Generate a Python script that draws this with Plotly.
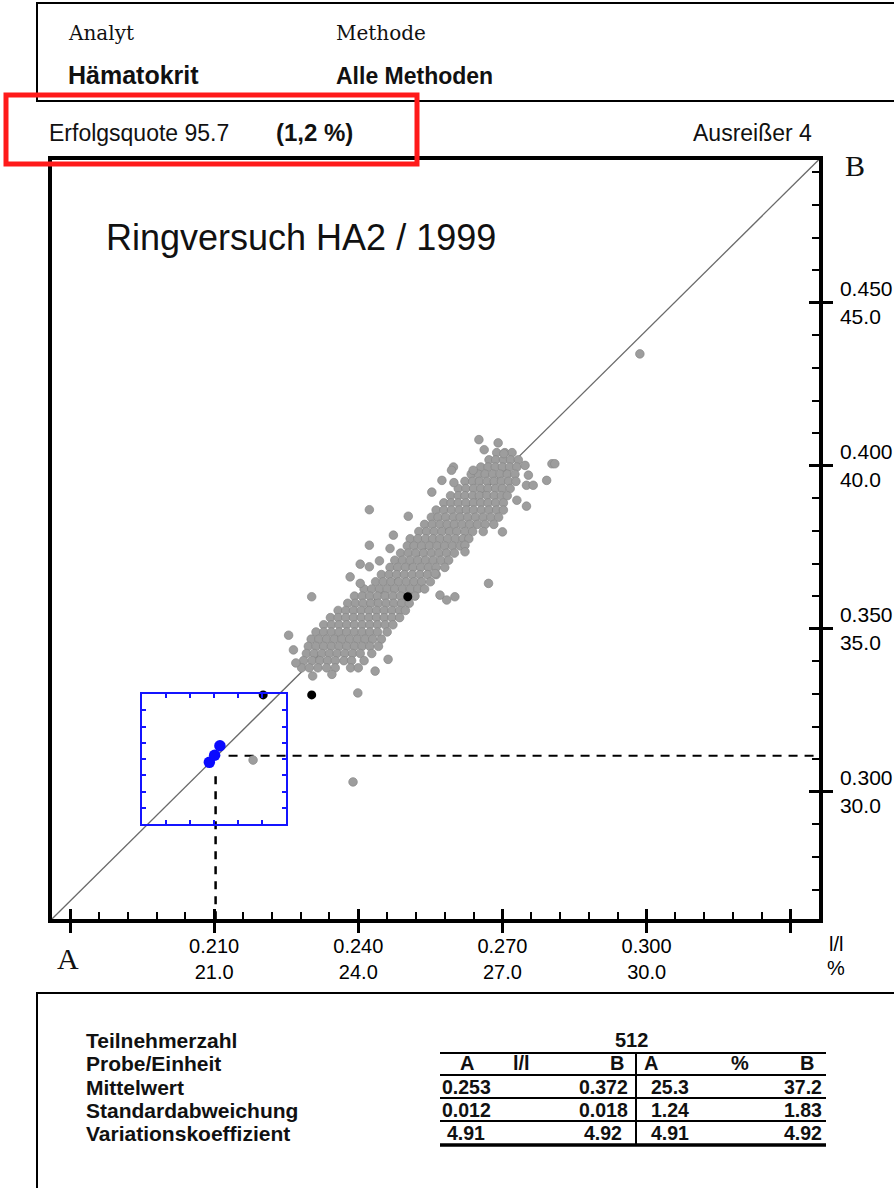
import plotly.graph_objects as go

W, H = 894, 1188
SANS = "Liberation Sans, Arial, Helvetica, sans-serif"
SERIF = "DejaVu Serif, Liberation Serif, serif"

# ---------------- data (values in %, i.e. l/l x 100) ----------------
x_major = [18.0, 21.0, 24.0, 27.0, 30.0, 33.0]
x_major_text = ["", "0.210<br>21.0", "0.240<br>24.0", "0.270<br>27.0", "0.300<br>30.0", ""]
y_major = [30.0, 35.0, 40.0, 45.0]
y_major_text = ["0.300<br>30.0", "0.350<br>35.0", "0.400<br>40.0", "0.450<br>45.0"]

x_range = [17.619, 33.588]
y_range = [26.086, 49.393]

# dense core of participant results, read row by row (B value, A values)
grey_rows_B = [40.40, 40.18, 39.96, 39.74, 39.52, 39.30, 39.08, 38.86, 38.64, 38.42,
               38.20, 37.98, 37.76, 37.54, 37.32, 37.10, 36.88, 36.66, 36.44, 36.22,
               36.00, 35.78, 35.56, 35.34, 35.12, 34.90, 34.68, 34.46, 34.24, 34.02, 33.80]
grey_rows_A = [
    [26.88, 27.05, 27.20],
    [26.72, 26.86, 27.02, 27.17, 27.33],
    [26.55, 26.70, 26.85, 27.00, 27.15, 27.30],
    [26.35, 26.50, 26.64, 26.80, 26.95, 27.10, 27.26],
    [26.22, 26.38, 26.52, 26.68, 26.83, 26.98, 27.13, 27.28],
    [26.08, 26.24, 26.40, 26.55, 26.70, 26.86, 27.00, 27.16],
    [25.92, 26.08, 26.22, 26.38, 26.52, 26.68, 26.83, 26.98, 27.10],
    [25.78, 25.93, 26.08, 26.24, 26.40, 26.55, 26.70, 26.86, 27.02],
    [25.62, 25.78, 25.94, 26.10, 26.25, 26.40, 26.56, 26.72, 26.88, 27.02],
    [25.52, 25.66, 25.82, 25.98, 26.12, 26.28, 26.44, 26.60, 26.76, 26.92],
    [25.38, 25.54, 25.70, 25.85, 26.00, 26.16, 26.32, 26.48, 26.64, 26.82],
    [25.26, 25.42, 25.58, 25.74, 25.90, 26.05, 26.22, 26.38, 26.60],
    [25.08, 25.24, 25.40, 25.55, 25.70, 25.86, 26.02, 26.18, 26.30],
    [25.02, 25.16, 25.32, 25.48, 25.64, 25.80, 25.96, 26.12],
    [24.88, 25.04, 25.20, 25.36, 25.52, 25.68, 25.84, 26.00],
    [24.76, 24.92, 25.08, 25.24, 25.40, 25.56, 25.72, 25.88],
    [24.66, 24.82, 24.98, 25.14, 25.30, 25.46, 25.62, 25.80],
    [24.48, 24.64, 24.80, 24.96, 25.12, 25.28, 25.44, 25.62],
    [24.36, 24.52, 24.68, 24.84, 25.00, 25.16, 25.32, 25.50],
    [24.12, 24.28, 24.44, 24.60, 24.76, 24.92, 25.08, 25.24, 25.38],
    [23.92, 24.08, 24.24, 24.40, 24.56, 24.72, 24.88, 25.04, 25.18],
    [23.78, 23.94, 24.10, 24.26, 24.42, 24.58, 24.74, 24.90, 25.06],
    [23.58, 23.74, 23.90, 24.06, 24.22, 24.38, 24.54, 24.70, 24.86, 24.98],
    [23.42, 23.58, 23.74, 23.90, 24.06, 24.22, 24.38, 24.54, 24.70, 24.86],
    [23.28, 23.44, 23.60, 23.76, 23.92, 24.08, 24.24, 24.40, 24.56, 24.72],
    [23.12, 23.28, 23.44, 23.60, 23.76, 23.92, 24.08, 24.24, 24.40, 24.60],
    [23.02, 23.18, 23.34, 23.50, 23.66, 23.82, 23.98, 24.14, 24.30, 24.48],
    [22.96, 23.12, 23.28, 23.44, 23.60, 23.76, 23.92, 24.08, 24.24, 24.42],
    [22.92, 23.08, 23.24, 23.40, 23.56, 23.72, 23.88, 24.04, 24.28],
    [22.86, 23.04, 23.20, 23.36, 23.52, 23.70, 23.86, 24.12],
    [22.82, 22.98, 23.16, 23.34, 23.52, 23.84, 24.00],
]
# scattered participant results around the core
grey_extra_A = [26.51, 26.62, 26.91, 27.03, 25.98, 25.94, 26.39, 27.47, 27.54, 27.50,
                27.64, 28.03, 28.09, 27.92, 25.74, 25.99, 25.53, 27.30, 27.50, 24.23,
                25.04, 27.00, 24.73, 24.23, 24.66, 26.22, 26.22, 24.04, 24.23, 24.44,
                23.83, 24.04, 25.60, 26.71, 23.03, 25.70, 25.84, 26.01, 24.62, 29.86,
                23.89, 21.81, 23.99, 22.65, 22.70, 23.05, 23.45, 22.55, 24.35]
grey_extra_B = [40.80, 40.49, 40.70, 40.37, 39.96, 39.86, 39.86, 40.01, 39.71, 39.40,
                39.40, 40.06, 40.06, 39.55, 39.55, 39.48, 39.19, 38.94, 38.76, 38.65,
                38.45, 37.97, 37.87, 37.56, 37.46, 37.56, 37.36, 36.98, 36.90, 37.08,
                36.59, 36.39, 36.69, 36.39, 35.98, 36.03, 35.88, 35.98, 34.06, 43.43,
                30.30, 30.97, 33.03, 34.35, 33.95, 33.55, 33.60, 34.80, 33.70]

outlier_A = [22.02, 23.03, 25.03]
outlier_B = [32.97, 32.97, 35.98]

own_A = [20.90, 21.01, 21.12]
own_B = [30.90, 31.12, 31.41]
own_mark_A = 21.03
own_mark_B = 31.10

target_box_A = [19.5, 22.5]
target_box_B = [29.0, 33.0]

table_labels = ["Teilnehmerzahl", "Probe/Einheit", "Mittelwert",
                "Standardabweichung", "Variationskoeffizient"]
n_participants = "512"
table_header = ["A", "l/l", "B", "A", "%", "B"]
mean_vals = ["0.253", "0.372", "25.3", "37.2"]
sd_vals = ["0.012", "0.018", "1.24", "1.83"]
cv_vals = ["4.91", "4.92", "4.91", "4.92"]

# ---------------- layout geometry ----------------
PX_L, PX_R, PX_T, PX_B = 51.7, 819.0, 159.5, 919.3
xd = [PX_L / W, PX_R / W]
yd = [1 - PX_B / H, 1 - PX_T / H]


def xdom(v):
    return xd[0] + (v - x_range[0]) / (x_range[1] - x_range[0]) * (xd[1] - xd[0])


def ydom(v):
    return yd[0] + (v - y_range[0]) / (y_range[1] - y_range[0]) * (yd[1] - yd[0])


grey_A = [a for row in grey_rows_A for a in row] + grey_extra_A
grey_B = [b for b, row in zip(grey_rows_B, grey_rows_A) for _ in row] + grey_extra_B

fig = go.Figure()

# diagonal reference line (corner to corner of the plot range)
fig.add_trace(go.Scatter(x=x_range, y=y_range, mode="lines",
                         line=dict(color="#6a6a6a", width=1.3),
                         hoverinfo="skip", showlegend=False, xaxis="x", yaxis="y"))

# dashed crosshair for own result
fig.add_trace(go.Scatter(x=[own_mark_A, own_mark_A], y=[y_range[0], own_mark_B - 0.5],
                         mode="lines", line=dict(color="black", width=2.5, dash="8px,7px"),
                         hoverinfo="skip", showlegend=False, xaxis="x2", yaxis="y2"))
fig.add_trace(go.Scatter(x=[own_mark_A + 0.27, x_range[1]], y=[own_mark_B, own_mark_B],
                         mode="lines", line=dict(color="black", width=2, dash="9px,7px"),
                         hoverinfo="skip", showlegend=False, xaxis="x2", yaxis="y2"))

# grey cloud
fig.add_trace(go.Scatter(x=grey_A, y=grey_B, mode="markers",
                         marker=dict(size=8.6, color="#9d9d9d",
                                     line=dict(color="#888888", width=0.7)),
                         hoverinfo="skip", showlegend=False, xaxis="x2", yaxis="y2"))
# outliers
fig.add_trace(go.Scatter(x=outlier_A, y=outlier_B, mode="markers",
                         marker=dict(size=9, color="black"),
                         hoverinfo="skip", showlegend=False, xaxis="x2", yaxis="y2"))
# own results (blue), drawn in target box axes
fig.add_trace(go.Scatter(x=own_A, y=own_B, mode="markers",
                         marker=dict(size=11.5, color="#0a0aff"),
                         hoverinfo="skip", showlegend=False, xaxis="x3", yaxis="y3"))

xtickfont = dict(family=SANS, size=20, color="black")
ytickfont = dict(family=SANS, size=21, color="black")
common = dict(showgrid=False, zeroline=False)

fig.update_layout(
    width=W, height=H, autosize=False,
    margin=dict(l=0, r=0, t=0, b=0),
    paper_bgcolor="white", plot_bgcolor="rgba(0,0,0,0)",
    showlegend=False,
    xaxis=dict(domain=xd, range=x_range, anchor="y", showline=True, linewidth=3.5,
               linecolor="black", mirror=True, ticks="outside", ticklen=10, tickwidth=2.5,
               tickcolor="black", tickmode="array", tickvals=x_major, ticktext=x_major_text,
               tickfont=xtickfont, ticklabelstandoff=-4,
               minor=dict(ticks="inside", ticklen=7.5, tickwidth=2, tickcolor="black",
                          tick0=18, dtick=0.6, showgrid=False),
               **common),
    yaxis=dict(domain=yd, range=y_range, anchor="x", side="right", showline=True,
               linewidth=3.5, linecolor="black", mirror=True, ticks="outside", ticklen=10,
               tickwidth=2.5, tickcolor="black", tickmode="array", tickvals=y_major,
               ticktext=y_major_text, tickfont=ytickfont, ticklabelstandoff=3,
               minor=dict(ticks="inside", ticklen=7.5, tickwidth=2, tickcolor="black",
                          tick0=30, dtick=1.0, showgrid=False),
               **common),
    xaxis2=dict(overlaying="x", range=x_range, anchor="y2", showline=False,
                ticks="inside", ticklen=10, tickwidth=2.5, tickcolor="black",
                tickmode="array", tickvals=x_major, showticklabels=False, **common),
    yaxis2=dict(overlaying="y", range=y_range, anchor="x2", side="right", showline=False,
                ticks="inside", ticklen=10, tickwidth=2.5, tickcolor="black",
                tickmode="array", tickvals=y_major, showticklabels=False, **common),
    xaxis3=dict(domain=[xdom(target_box_A[0]), xdom(target_box_A[1])], range=target_box_A,
                anchor="y3", showline=True, linewidth=2, linecolor="#1414ff", mirror="ticks",
                ticks="inside", ticklen=4, tickwidth=1.5, tickcolor="#1414ff",
                tick0=target_box_A[0], dtick=0.5, showticklabels=False, **common),
    yaxis3=dict(domain=[ydom(target_box_B[0]), ydom(target_box_B[1])], range=target_box_B,
                anchor="x3", showline=True, linewidth=2, linecolor="#1414ff", mirror="ticks",
                ticks="inside", ticklen=4, tickwidth=1.5, tickcolor="#1414ff",
                tick0=target_box_B[0], dtick=0.5, showticklabels=False, **common),
)


def ann(text, x, y, size, bold=False, family=SANS, xanchor="left", color="#111"):
    return dict(text=f"<b>{text}</b>" if bold else text, x=x / W, y=1 - y / H,
                xref="paper", yref="paper", xanchor=xanchor, yanchor="middle",
                showarrow=False, font=dict(size=size, family=family, color=color))


def line(x0, y0, x1, y1, w=2, color="black"):
    return dict(type="line", xref="paper", yref="paper", x0=x0 / W, x1=x1 / W,
                y0=1 - y0 / H, y1=1 - y1 / H, line=dict(color=color, width=w))


def rect(x0, y0, x1, y1, w=2, color="black"):
    return dict(type="rect", xref="paper", yref="paper", x0=x0 / W, x1=x1 / W,
                y0=1 - y0 / H, y1=1 - y1 / H, line=dict(color=color, width=w))


annotations = [
    ann("Analyt", 66, 33, 20, family=SERIF),
    ann("Methode", 334, 33, 20, family=SERIF),
    ann("Hämatokrit", 66, 75, 25, bold=True),
    ann("Alle Methoden", 334, 76, 23, bold=True),
    ann("Erfolgsquote 95.7", 47, 133, 23),
    ann("(1,2 %)", 274, 132, 24, bold=True),
    ann("Ausreißer 4", 814, 133, 23, xanchor="right"),
    ann("B", 855, 166, 30, family="Liberation Serif, serif", xanchor="center"),
    ann("A", 68, 958, 30, family="Liberation Serif, serif", xanchor="center"),
    ann("Ringversuch HA2 / 1999", 104, 237, 36),
    ann("l/l", 836, 944, 20, xanchor="center", color="black"),
    ann("%", 836, 968, 20, xanchor="center", color="black"),
]

row_y = [1040, 1063, 1087, 1110, 1133]
for lab, yy in zip(table_labels, row_y):
    annotations.append(ann(lab, 84, yy, 21, bold=True))
annotations.append(ann(n_participants, 631, row_y[0], 20, bold=True, xanchor="center"))
for txt, xx in zip(table_header, [467, 521, 617, 651, 740, 807]):
    annotations.append(ann(txt, xx, row_y[1], 20, bold=True, xanchor="center"))
for vals, yy in zip([mean_vals, sd_vals, cv_vals], row_y[2:]):
    for txt, xx in zip(vals, [466, 603, 670, 803]):
        annotations.append(ann(txt, xx, yy, 19.5, bold=True, xanchor="center"))

shapes = [
    rect(37, 3, 910, 101, w=2),
    rect(37, 993, 910, 1200, w=2),
    rect(6, 95, 417, 164, w=5, color="#ff1a1a"),
]
for yy in [1053, 1075, 1098, 1121]:
    shapes.append(line(440, yy, 826, yy, w=2))
shapes.append(line(440, 1145, 826, 1145, w=3.5))
shapes.append(line(636, 1053, 636, 1145, w=2))

fig.update_layout(annotations=annotations, shapes=shapes)

fig.write_html("out.html")
